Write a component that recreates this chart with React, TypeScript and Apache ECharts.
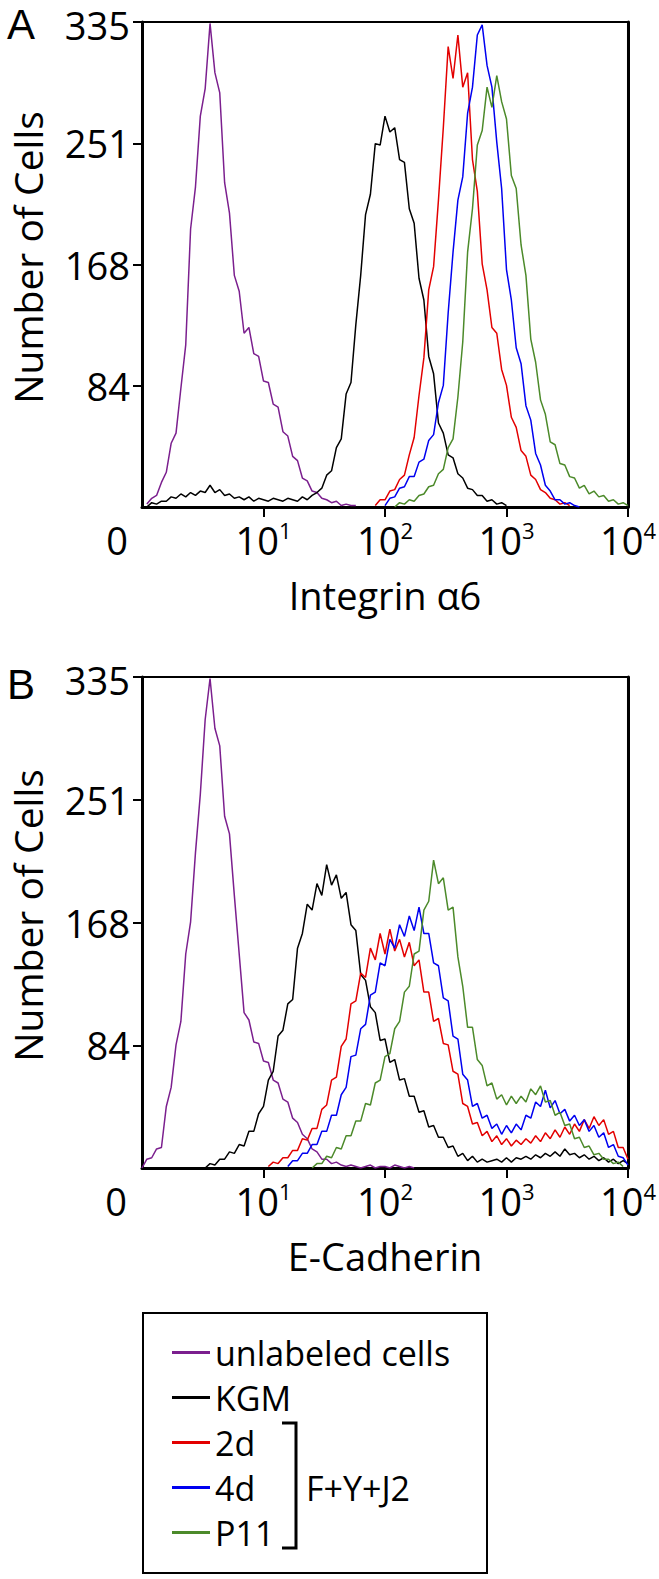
import React, { useEffect, useRef } from "react";
import * as echarts from "echarts";

const FONT = '"Open Sans", "Noto Sans", sans-serif';
const LABEL_FONT = '"Liberation Sans", Arial, sans-serif';

// histogram channel width in log10 units (channels are evenly spaced on the log axis)
const BIN_STEP = 0.04;

const SERIES_NAMES = ["unlabeled cells", "KGM", "2d", "4d", "P11"];
const SERIES_COLORS = ["#7b1f8e", "#000000", "#e30000", "#0000f0", "#4c8a2a"];

const Y_MAX = 335;
const Y_INTERVAL = 83.75;
const Y_TICK_VALUES = [83.75, 167.5, 251.25, 335];
const Y_TICK_LABELS = ["", "84", "168", "251", "335"];
const X_MIN = 1;
const X_MAX = 10000;
const X_TICK_VALUES = [10, 100, 1000, 10000];
const X_TICK_BASE = ["0", "10", "10", "10", "10"];
const X_TICK_EXP = ["", "1", "2", "3", "4"];

const Y_TITLE = "Number of Cells";
const A_TITLE = "Integrin α6";
const B_TITLE = "E-Cadherin";
const GROUP_LABEL = "F+Y+J2";
const PANEL_LABELS = ["A", "B"];

// ---------- Panel A: Integrin α6 (first channel index of each curve, then counts) ----------
const A_START = [1, 1, 48, 50, 52];
const A_UNLABELED = [2, 6, 8, 17, 24, 44, 51, 82, 112, 192, 221, 270, 289, 334, 300, 286, 224, 203, 160, 149, 120, 124, 106, 104, 87, 86, 71, 69, 52, 49, 35, 32, 20, 18, 11, 10, 6, 5, 3, 4, 1, 2, 1, 1];
const A_KGM = [0, 3, 2, 4, 4, 7, 6, 9, 7, 10, 8, 11, 10, 15, 10, 12, 8, 9, 6, 7, 5, 7, 4, 6, 5, 4, 6, 5, 4, 6, 5, 4, 7, 5, 8, 10, 13, 22, 25, 41, 47, 78, 86, 126, 160, 202, 216, 251, 250, 270, 259, 262, 240, 238, 206, 196, 158, 143, 104, 92, 58, 51, 36, 34, 23, 20, 13, 12, 8, 8, 4, 5, 2, 3, 1];
const A_2D = [1, 5, 5, 11, 12, 19, 22, 36, 48, 77, 103, 150, 166, 212, 262, 318, 296, 326, 290, 300, 240, 218, 168, 150, 124, 120, 95, 84, 62, 55, 39, 35, 22, 19, 12, 10, 6, 5, 2, 3, 1];
const A_4D = [1, 6, 7, 13, 14, 21, 21, 31, 33, 46, 50, 72, 84, 134, 176, 212, 228, 272, 290, 326, 333, 305, 290, 252, 220, 164, 143, 110, 99, 70, 60, 37, 29, 15, 11, 5, 5, 2, 3, 1, 0];
const A_P11 = [0, 3, 2, 5, 4, 8, 9, 14, 15, 23, 26, 41, 47, 76, 114, 176, 206, 250, 260, 290, 276, 298, 280, 268, 229, 220, 181, 160, 116, 100, 74, 64, 45, 43, 30, 29, 21, 20, 13, 15, 9, 11, 7, 8, 4, 5, 2, 3, 1];

// ---------- Panel B: E-Cadherin ----------
const B_START = [0, 13, 26, 30, 35];
const B_UNLABELED = [0, 6, 7, 13, 14, 42, 55, 84, 100, 146, 168, 215, 255, 306, 334, 300, 288, 240, 228, 186, 146, 106, 101, 86, 85, 73, 72, 60, 58, 47, 45, 34, 31, 23, 20, 13, 11, 6, 6, 3, 4, 2, 1, 2, 1, 0, 1, 2, 0, 1, 1, 0, 2, 1, 0, 1, 0];
const B_KGM = [0, 3, 2, 6, 6, 11, 10, 16, 15, 25, 25, 37, 42, 60, 66, 90, 94, 112, 115, 150, 160, 180, 176, 194, 186, 207, 193, 200, 184, 188, 166, 162, 132, 128, 110, 106, 87, 88, 72, 74, 60, 61, 49, 49, 38, 39, 28, 29, 21, 21, 14, 15, 8, 10, 5, 8, 4, 6, 4, 5, 6, 4, 7, 4, 7, 6, 8, 6, 9, 7, 10, 8, 11, 8, 13, 9, 10, 7, 9, 6, 8, 5, 7, 4, 6, 3, 5, 3];
const B_2D = [1, 4, 3, 7, 7, 12, 12, 20, 19, 27, 27, 40, 43, 60, 62, 83, 88, 112, 114, 133, 130, 150, 142, 160, 146, 163, 148, 156, 144, 154, 138, 142, 120, 120, 100, 102, 85, 84, 66, 64, 44, 42, 30, 31, 22, 25, 18, 22, 16, 20, 15, 19, 16, 20, 17, 22, 18, 24, 20, 26, 21, 28, 23, 30, 25, 33, 27, 35, 29, 33, 23, 25, 14, 14, 6];
const B_4D = [1, 5, 5, 10, 10, 16, 16, 25, 25, 36, 36, 50, 55, 76, 77, 95, 98, 118, 120, 140, 138, 156, 150, 166, 158, 172, 162, 178, 160, 160, 140, 138, 116, 114, 90, 88, 64, 60, 42, 44, 34, 36, 27, 30, 23, 29, 24, 30, 26, 36, 34, 45, 42, 53, 41, 46, 37, 40, 32, 36, 29, 33, 25, 29, 21, 24, 14, 16, 8, 7, 2];
const B_P11 = [0, 3, 3, 8, 7, 14, 13, 22, 22, 32, 32, 44, 43, 58, 60, 76, 78, 95, 100, 120, 124, 146, 148, 176, 182, 210, 194, 198, 176, 178, 144, 124, 96, 96, 74, 70, 56, 58, 47, 50, 43, 49, 44, 49, 45, 54, 50, 56, 45, 46, 36, 38, 29, 30, 20, 21, 14, 15, 9, 10, 6, 6, 3, 4, 1];

const A_CURVES = [A_UNLABELED, A_KGM, A_2D, A_4D, A_P11];
const B_CURVES = [B_UNLABELED, B_KGM, B_2D, B_4D, B_P11];

function toPairs(start: number, counts: number[]) {
  return counts.map((c, k) => [Math.pow(10, (start + k) * BIN_STEP), c]);
}

function xAxisFor(gridIndex: number, name: string, zeroPad: number) {
  return {
    type: "log",
    logBase: 10,
    gridIndex,
    min: X_MIN,
    max: X_MAX,
    name,
    nameLocation: "middle",
    nameGap: 68,
    nameTextStyle: { fontSize: 38, lineHeight: 40, fontFamily: FONT, color: "#000" },
    axisLine: { show: true, onZero: false, lineStyle: { color: "#000", width: 3 } },
    axisTick: { show: true, length: 10, customValues: X_TICK_VALUES, lineStyle: { color: "#000", width: 2 } },
    minorTick: { show: false },
    splitLine: { show: false },
    axisLabel: {
      show: true,
      margin: 12,
      showMinLabel: true,
      showMaxLabel: true,
      color: "#000",
      formatter: (value: number) => {
        const i = Math.round(Math.log10(value));
        if (i === 0) return "{z|" + X_TICK_BASE[0] + "}";
        return "{b|" + X_TICK_BASE[i] + "}{s|" + X_TICK_EXP[i] + "}";
      },
      rich: {
        b: { fontSize: 38, lineHeight: 36, fontFamily: FONT, color: "#000", padding: [5, 0, 0, 0] },
        s: { fontSize: 22, lineHeight: 22, fontFamily: FONT, color: "#000", verticalAlign: "top" },
        z: { fontSize: 38, lineHeight: 36, fontFamily: FONT, color: "#000", padding: [5, zeroPad, 0, 0] },
      },
    },
  };
}

function yAxesFor(gridIndex: number) {
  return [
    {
      type: "value",
      gridIndex,
      position: "left",
      min: 0,
      max: Y_MAX,
      interval: Y_INTERVAL,
      name: Y_TITLE,
      nameLocation: "middle",
      nameGap: 95,
      nameTextStyle: { fontSize: 39, fontFamily: FONT, color: "#000", padding: [0, 0, 0, 14] },
      axisLine: { show: true, onZero: false, lineStyle: { color: "#000", width: 3 } },
      axisTick: { show: true, length: 9, customValues: Y_TICK_VALUES, lineStyle: { color: "#000", width: 2 } },
      splitLine: { show: false },
      axisLabel: {
        margin: 12,
        showMaxLabel: true,
        formatter: (v: number) => {
          const i = Math.round(v / Y_INTERVAL);
          const t = Y_TICK_LABELS[i] ?? "";
          if (!t) return "";
          return i === 4 ? "{t|" + t + "}" : "{n|" + t + "}";
        },
        rich: {
          n: { fontSize: 38, lineHeight: 30, fontFamily: FONT, color: "#000" },
          t: { fontSize: 38, lineHeight: 26, fontFamily: FONT, color: "#000", padding: [6, 0, 0, 0] },
        },
      },
    },
    {
      type: "value",
      gridIndex,
      position: "right",
      min: 0,
      max: Y_MAX,
      interval: Y_INTERVAL,
      axisLine: { show: true, onZero: false, lineStyle: { color: "#000", width: 3 } },
      axisTick: { show: false },
      axisLabel: { show: false },
      splitLine: { show: false },
    },
  ];
}

function seriesFor(curves: number[][], starts: number[], xIdx: number, yIdx: number) {
  return curves.map((counts, s) => ({
    type: "line",
    name: SERIES_NAMES[s],
    xAxisIndex: xIdx,
    yAxisIndex: yIdx,
    data: toPairs(starts[s], counts),
    showSymbol: false,
    symbol: "none",
    silent: true,
    z: 2 + s,
    lineStyle: { color: SERIES_COLORS[s], width: 1.5 },
    itemStyle: { color: SERIES_COLORS[s] },
  }));
}

function panelTitle(text: string, left: number, top: number) {
  return {
    text,
    left,
    top,
    padding: 0,
    textStyle: { fontSize: 42, lineHeight: 36, fontWeight: "normal", fontFamily: LABEL_FONT, color: "#000" },
  };
}

export default function App() {
  const ref = useRef<HTMLDivElement>(null);

  useEffect(() => {
    if (!ref.current) return;
    const chart = echarts.init(ref.current, undefined, { renderer: "svg" });
    chart.setOption({
      animation: false,
      backgroundColor: "#fff",
      title: [panelTitle(PANEL_LABELS[0], 7, 6), panelTitle(PANEL_LABELS[1], 7, 666)],
      grid: [
        { left: 140, top: 16, width: 488, height: 491, show: true, borderColor: "#000", borderWidth: 2, backgroundColor: "transparent" },
        { left: 142, top: 677, width: 486, height: 491, show: true, borderColor: "#000", borderWidth: 2, backgroundColor: "transparent" },
      ],
      xAxis: [xAxisFor(0, A_TITLE, 50), xAxisFor(1, B_TITLE, 52)],
      yAxis: [...yAxesFor(0), ...yAxesFor(1)],
      legend: {
        orient: "vertical",
        left: 172,
        top: 1330,
        padding: 0,
        itemWidth: 38,
        itemHeight: 3,
        itemGap: 0,
        icon: "rect",
        selectedMode: false,
        textStyle: { fontSize: 34, lineHeight: 45, fontFamily: FONT, color: "#000" },
        data: SERIES_NAMES,
      },
      graphic: [
        { type: "rect", shape: { x: 143, y: 1313, width: 344, height: 260 }, style: { fill: "rgba(0,0,0,0)", stroke: "#000", lineWidth: 2 } },
        { type: "polyline", shape: { points: [[282, 1423], [296, 1423], [296, 1548], [282, 1548]] }, style: { fill: "none", stroke: "#000", lineWidth: 3 } },
        { type: "text", x: 306, y: 1488, style: { text: GROUP_LABEL, fontSize: 34, fontFamily: FONT, fill: "#000", align: "left", verticalAlign: "middle" } },
      ],
      series: [...seriesFor(A_CURVES, A_START, 0, 0), ...seriesFor(B_CURVES, B_START, 1, 2)],
    });
    return () => chart.dispose();
  }, []);

  return <div ref={ref} style={{ position: "absolute", left: 0, top: 0, width: 659, height: 1579 }} />;
}
